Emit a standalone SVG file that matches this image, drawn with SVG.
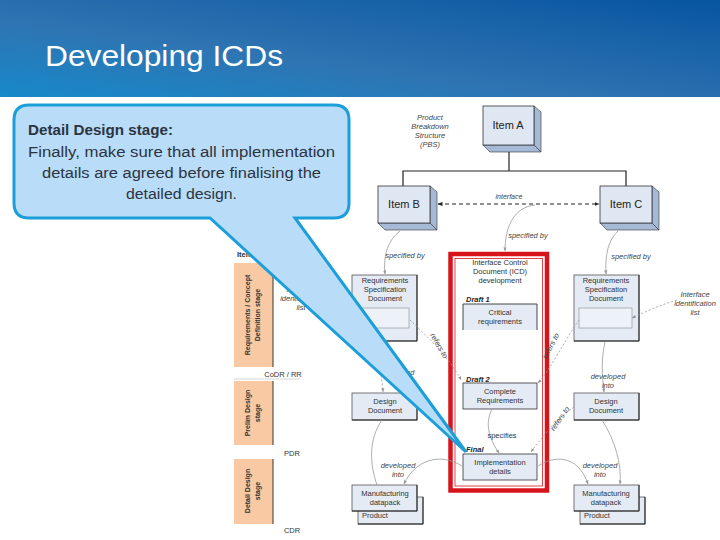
<svg xmlns="http://www.w3.org/2000/svg" width="720" height="540" viewBox="0 0 720 540">
<defs>
<linearGradient id="hdr" x1="0" y1="1" x2="1" y2="0">
<stop offset="0" stop-color="#1789c9"/>
<stop offset="0.4" stop-color="#2f74b2"/>
<stop offset="1" stop-color="#0755a0"/>
</linearGradient>
<marker id="ah" viewBox="0 0 10 10" refX="9" refY="5" markerWidth="5" markerHeight="5" orient="auto-start-reverse">
<path d="M0,1 L10,5 L0,9 Z" fill="#222"/>
</marker>
<marker id="ag" viewBox="0 0 10 10" refX="9" refY="5" markerWidth="5" markerHeight="5" orient="auto">
<path d="M0,1 L10,5 L0,9 Z" fill="#999"/>
</marker>
<style>
.t{font-family:"Liberation Sans",Arial,sans-serif;fill:#333;font-size:7.5px;text-anchor:middle}
.i{font-style:italic;fill:#444}
.b{font-weight:bold}
.item{font-family:"Liberation Sans",Arial,sans-serif;fill:#222;font-size:11px;text-anchor:middle}
.front{fill:#dfe7f3;stroke:#333;stroke-width:0.8}
.side{fill:#a6b9d6;stroke:#333;stroke-width:0.6}
.doc{fill:#e4ebf5;stroke:#555;stroke-width:0.8}
.inner{fill:#edf1f8;stroke:#999;stroke-width:0.7}
.stage{fill:#f8c9a2}
.sol{fill:none;stroke:#999;stroke-width:0.8}
.dsh{fill:none;stroke:#999;stroke-width:0.8;stroke-dasharray:2 2}
.cap{font-family:"Liberation Sans",Arial,sans-serif;fill:#2b3440;font-size:15.5px}
</style>
</defs>
<rect width="720" height="540" fill="#ffffff"/>
<rect x="0" y="0" width="720" height="97" fill="url(#hdr)"/>
<text x="45" y="66" font-family="Liberation Sans, Arial, sans-serif" font-size="29" fill="#ffffff" textLength="238" lengthAdjust="spacingAndGlyphs">Developing ICDs</text>

<!-- stage column -->
<g id="stages">
<text x="237" y="257" class="t b" style="text-anchor:start;font-size:7.5px">Item</text>
<rect x="234" y="263" width="39" height="104" class="stage"/>
<line x1="273" y1="263" x2="273" y2="367" stroke="#333" stroke-width="1"/>
<text class="t b" transform="translate(250,315) rotate(-90)" style="font-size:7px">Requirements / Concept</text>
<text class="t b" transform="translate(260,315) rotate(-90)" style="font-size:7px">Definition stage</text>
<line x1="234" y1="379" x2="300" y2="379" stroke="#ccc" stroke-width="0.8"/>
<text x="283" y="377" class="t">CoDR / RR</text>
<rect x="234" y="381" width="39" height="64" class="stage"/>
<line x1="273" y1="381" x2="273" y2="445" stroke="#333" stroke-width="1"/>
<text class="t b" transform="translate(250,413) rotate(-90)" style="font-size:7px">Prelim Design</text>
<text class="t b" transform="translate(260,413) rotate(-90)" style="font-size:7px">stage</text>
<text x="292" y="456" class="t">PDR</text>
<rect x="234" y="459" width="39" height="65" class="stage"/>
<line x1="273" y1="459" x2="273" y2="524" stroke="#333" stroke-width="1"/>
<text class="t b" transform="translate(250,491) rotate(-90)" style="font-size:7px">Detail Design</text>
<text class="t b" transform="translate(260,491) rotate(-90)" style="font-size:7px">stage</text>
<text x="292" y="533" class="t">CDR</text>
</g>

<g id="pbs-label">
<text x="430" y="120" class="t i">Product</text>
<text x="430" y="129" class="t i">Breakdown</text>
<text x="430" y="138" class="t i">Structure</text>
<text x="430" y="147" class="t i">(PBS)</text>
</g>

<g id="itemA">
<polygon points="534,106 541,112 541,152 534,145" class="side"/>
<polygon points="483,145 534,145 541,152 490,152" class="side"/>
<rect x="483" y="106" width="51" height="39" class="front"/>
<text x="508" y="129" class="item">Item A</text>
</g>
<g id="itemB">
<polygon points="430,186 437,192 437,230 430,223" class="side"/>
<polygon points="378,223 430,223 437,230 385,230" class="side"/>
<rect x="378" y="186" width="52" height="37" class="front"/>
<text x="404" y="208" class="item">Item B</text>
</g>
<g id="itemC">
<polygon points="652,186 659,192 659,230 652,223" class="side"/>
<polygon points="600,223 652,223 659,230 607,230" class="side"/>
<rect x="600" y="186" width="52" height="37" class="front"/>
<text x="626" y="208" class="item">Item C</text>
</g>

<!-- ICD -->
<g id="icd">
<rect x="450.5" y="254" width="96.5" height="236.5" fill="#fff" stroke="#d8141b" stroke-width="4.5"/>
<rect x="455" y="258.5" width="87.5" height="227.5" fill="none" stroke="#d8141b" stroke-width="0.8"/>
<text x="500" y="265" class="t">Interface Control</text>
<text x="500" y="274" class="t">Document (ICD)</text>
<text x="500" y="283" class="t">development</text>
</g>
<g id="draft1">
<text x="466" y="302" class="t i b" style="text-anchor:start;fill:#222">Draft 1</text>
<rect x="463" y="304" width="74" height="26" fill="#e4ebf5"/>
<polyline points="463,330 463,304 537,304 537,330" fill="none" stroke="#333" stroke-width="0.9"/>
<text x="500" y="315" class="t">Critical</text>
<text x="500" y="324" class="t">requirements</text>
</g>
<g id="draft2">
<text x="466" y="382" class="t i b" style="text-anchor:start;fill:#222">Draft 2</text>
<rect x="463" y="383" width="74" height="26" class="doc" style="stroke:#333"/>
<text x="500" y="394" class="t">Complete</text>
<text x="500" y="403" class="t">Requirements</text>
</g>
<g id="final">
<text x="466" y="452" class="t i b" style="text-anchor:start;fill:#222">Final</text>
<rect x="463" y="454" width="74" height="26" class="doc" style="stroke:#333"/>
<text x="500" y="465" class="t">Implementation</text>
<text x="500" y="474" class="t">details</text>
</g>

<g id="reqL">
<rect x="352" y="275" width="65" height="66" class="doc"/>
<polyline points="352,341 417,341 417,275" fill="none" stroke="#222" stroke-width="1"/>
<text x="385" y="283" class="t">Requirements</text>
<text x="385" y="292" class="t">Specification</text>
<text x="385" y="301" class="t">Document</text>
<rect x="353" y="308" width="56" height="20" class="inner"/>
</g>
<g id="reqR">
<rect x="574" y="275" width="65" height="66" class="doc"/>
<polyline points="574,341 639,341 639,275" fill="none" stroke="#222" stroke-width="1"/>
<text x="606" y="283" class="t">Requirements</text>
<text x="606" y="292" class="t">Specification</text>
<text x="606" y="301" class="t">Document</text>
<rect x="579" y="308" width="53" height="20" class="inner"/>
</g>
<g id="iilR">
<text x="695" y="297" class="t i">Interface</text>
<text x="695" y="306" class="t i">identification</text>
<text x="695" y="315" class="t i">list</text>
</g>
<g id="iilL">
<text x="301" y="292" class="t i">Interface</text>
<text x="301" y="301" class="t i">identification</text>
<text x="301" y="310" class="t i">list</text>
</g>
<g id="designL">
<rect x="352" y="393" width="65" height="27" class="doc"/>
<polyline points="352,420 417,420 417,393" fill="none" stroke="#222" stroke-width="1"/>
<text x="385" y="404" class="t">Design</text>
<text x="385" y="413" class="t">Document</text>
</g>
<g id="designR">
<rect x="574" y="393" width="65" height="27" class="doc"/>
<polyline points="574,420 639,420 639,393" fill="none" stroke="#222" stroke-width="1"/>
<text x="606" y="404" class="t">Design</text>
<text x="606" y="413" class="t">Document</text>
</g>
<g id="mfgL">
<rect x="358" y="497" width="65" height="27" class="doc"/>
<polyline points="358,524 423,524 423,497" fill="none" stroke="#222" stroke-width="1"/>
<text x="362" y="518" class="t" style="text-anchor:start">Product</text>
<rect x="352" y="485" width="65" height="26" class="doc"/>
<polyline points="352,511 417,511 417,485" fill="none" stroke="#222" stroke-width="1"/>
<text x="385" y="496" class="t">Manufacturing</text>
<text x="385" y="505" class="t">datapack</text>
</g>
<g id="mfgR">
<rect x="580" y="497" width="65" height="27" class="doc"/>
<polyline points="580,524 645,524 645,497" fill="none" stroke="#222" stroke-width="1"/>
<text x="584" y="518" class="t" style="text-anchor:start">Product</text>
<rect x="574" y="485" width="65" height="26" class="doc"/>
<polyline points="574,511 639,511 639,485" fill="none" stroke="#222" stroke-width="1"/>
<text x="606" y="496" class="t">Manufacturing</text>
<text x="606" y="505" class="t">datapack</text>
</g>

<g id="connectors">
<polyline points="509,152 509,171" fill="none" stroke="#222" stroke-width="1.2"/>
<polyline points="403,186 403,171 626,171 626,186" fill="none" stroke="#222" stroke-width="1.2"/>
<line x1="438" y1="204" x2="599" y2="204" stroke="#222" stroke-width="1" stroke-dasharray="4 3" marker-start="url(#ah)" marker-end="url(#ah)"/>
<text x="509" y="199" class="t i" style="font-size:7px">interface</text>

<path d="M400,231 C388,240 383,255 385,274" class="sol" marker-end="url(#ag)"/>
<text x="405" y="258" class="t i">specified by</text>
<path d="M535,205 C515,207 505,225 505,251" class="sol" marker-end="url(#ag)"/>
<text x="528" y="238" class="t i">specified by</text>
<path d="M618,231 C608,240 605,255 606,274" class="sol" marker-end="url(#ag)"/>
<text x="631" y="259" class="t i">specified by</text>

<path d="M410,320 C425,335 448,355 461,380" class="dsh" marker-end="url(#ag)"/>
<text class="t i" transform="translate(437,347) rotate(60)">refers to</text>
<path d="M579,320 C565,340 550,370 538,383" class="dsh" marker-end="url(#ag)"/>
<text class="t i" transform="translate(553,347) rotate(-62)">refers to</text>
<path d="M677,300 C660,305 645,312 632,318" class="dsh" marker-end="url(#ag)"/>

<path d="M375,344 C378,360 382,375 383,392" class="dsh" marker-end="url(#ag)"/>
<text x="397" y="375" class="t i">developed</text>
<text x="397" y="384" class="t i">into</text>
<path d="M605,342 C601,360 602,375 604,392" class="sol" marker-end="url(#ag)"/>
<text x="608" y="379" class="t i">developed</text>
<text x="608" y="388" class="t i">into</text>

<path d="M417,405 C435,420 450,435 461,447" class="dsh" marker-end="url(#ag)"/>
<path d="M574,407 C555,420 540,440 531,452" class="dsh" marker-end="url(#ag)"/>
<text class="t i" transform="translate(562,420) rotate(-55)">refers to</text>

<path d="M492,409 C484,425 490,440 499,453" class="sol" marker-end="url(#ag)"/>
<text x="502" y="438" class="t">specifies</text>

<path d="M382,420 C368,440 370,465 377,485" class="sol"/>
<path d="M462,466 C440,452 415,460 404,484" class="sol" marker-end="url(#ag)"/>
<text x="398" y="468" class="t i">developed</text>
<text x="398" y="477" class="t i">into</text>
<path d="M538,466 C560,452 580,460 588,484" class="sol" marker-end="url(#ag)"/>
<path d="M602,420 C615,440 622,465 620,484" class="sol" marker-end="url(#ag)"/>
<text x="600" y="468" class="t i">developed</text>
<text x="600" y="477" class="t i">into</text>
</g>

<!-- callout -->
<g id="callout">
<path d="M29,105 H334 Q349,105 349,120 V203 Q349,218 334,218 H295 L466,452 L210,218 H29 Q14,218 14,203 V120 Q14,105 29,105 Z" fill="#b9dcf8" stroke="#1c9fd8" stroke-width="3" stroke-linejoin="miter"/>
<text x="28" y="135" class="cap" font-weight="bold" textLength="145" lengthAdjust="spacingAndGlyphs">Detail Design stage:</text>
<text x="28" y="157" class="cap" textLength="307" lengthAdjust="spacingAndGlyphs">Finally, make sure that all implementation</text>
<text x="42" y="178" class="cap" textLength="279" lengthAdjust="spacingAndGlyphs">details are agreed before finalising the</text>
<text x="126" y="199" class="cap" textLength="111" lengthAdjust="spacingAndGlyphs">detailed design.</text>
</g>
</svg>
